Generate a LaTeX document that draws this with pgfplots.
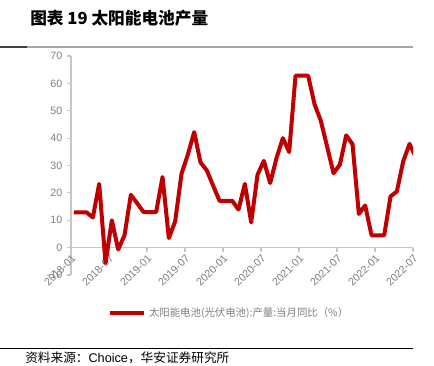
\documentclass[border=0pt]{standalone}
\usepackage{pgfplots}
\pgfplotsset{compat=1.18}
\usepackage{fontspec}
\setmainfont{Liberation Sans}
\newfontfamily\cjk{Noto Sans CJK SC}
\definecolor{lred}{HTML}{C00000}
\definecolor{tgray}{HTML}{7F7F7F}
\begin{document}
\begin{tikzpicture}
\useasboundingbox (0,0) rectangle (325.5pt,273.75pt);
% title
\node[anchor=west,inner sep=0pt] at (22.5pt,260.25pt) {\cjk\bfseries\fontsize{12.5pt}{14pt}\selectfont 图表 19 太阳能电池产量};
\draw[line width=1.1pt,color=gray!70] (0pt,238.5pt) -- (309.75pt,238.5pt);
\draw[line width=1.1pt,color=black!75] (0pt,238.5pt) -- (20.25pt,238.5pt);
% bottom
\draw[line width=0.75pt,color=black] (0pt,12.75pt) -- (309.75pt,12.75pt);
\node[anchor=west,inner sep=0pt] at (18.75pt,5.25pt) {\cjk\fontsize{9.5pt}{11pt}\selectfont 资料来源：{\rmfamily Choice}，华安证券研究所};
\begin{axis}[
  scale only axis,
  width=256.5pt, height=164.25pt,
  at={(53.25pt,67.5pt)}, anchor=south west,
  xmin=0, xmax=54, ymin=-10, ymax=70,
  axis x line=middle, axis y line=left,
  hide obscured x ticks=false,
  axis line style={-, color=gray!45, line width=0.8pt},
  tick style={color=gray!45, line width=0.8pt},
  major tick length=3pt,
  tick align=outside,
  xtick={0,6,...,54},
  xticklabels={2018-01,2018-07,2019-01,2019-07,2020-01,2020-07,2021-01,2021-07,2022-01,2022-07},
  ytick={-10,0,...,70},
  xticklabel style={rotate=45, anchor=north east, font=\fontsize{8pt}{9pt}\selectfont, text=tgray, inner sep=1pt},
  yticklabel style={font=\fontsize{8pt}{9pt}\selectfont, text=tgray},
  /pgf/number format/assume math mode=true,
  legend style={at={(0.108,-0.174)}, anchor=west, draw=none, fill=none,
    font=\cjk\fontsize{7.8pt}{9pt}\selectfont, text=tgray, inner sep=0pt},
  legend image code/.code={\draw[#1, line width=3pt] (0cm,0cm) -- (0.9cm,0cm);},
  clip=true,
]
\addplot[color=lred, line width=3pt, line join=round, mark=none] table {
x y
0.45 12.9
1.45 12.9
2.45 12.9
3.45 11.0
4.45 23.3
5.45 -5.6
6.45 10.0
7.45 -0.7
8.45 4.5
9.45 19.3
10.45 16.2
11.45 13.0
12.45 13.0
13.45 13.0
14.45 25.8
15.45 3.5
16.45 9.6
17.45 27.0
18.45 34.0
19.45 42.2
20.45 31.1
21.45 28.2
22.45 22.6
23.45 17.1
24.45 17.1
25.45 17.1
26.45 13.9
27.45 23.3
28.45 9.2
29.45 26.6
30.45 31.7
31.45 23.6
32.45 32.7
33.45 40.0
34.45 34.9
35.45 62.8
36.45 62.8
37.45 62.8
38.45 52.4
39.45 46.3
40.45 36.8
41.45 27.2
42.45 30.3
43.45 41.0
44.45 37.8
45.45 12.3
46.45 15.4
47.45 4.5
48.45 4.5
49.45 4.5
50.45 18.7
51.45 20.5
52.45 31.5
53.45 37.9
54.45 33.0
};
\addlegendentry{太阳能电池(光伏电池):产量:当月同比（\%）}
\end{axis}
\end{tikzpicture}
\end{document}
